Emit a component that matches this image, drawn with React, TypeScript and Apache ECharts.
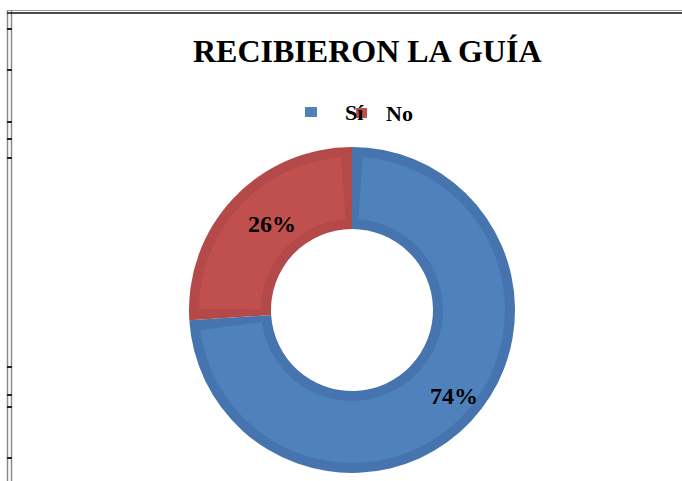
import React, { useEffect, useRef } from "react";
import * as echarts from "echarts";

const titleText = "RECIBIERON LA GUÍA";
const categories = ["Sí", "No"];
const values = [74, 26];
const lightColors = ["#4F81BD", "#C0504D"];
const darkColors = ["#4674AE", "#B4494A"];
const borderTickYs = [29, 70, 122, 139, 158, 367, 395, 407, 458];

const SERIF = "'Liberation Serif', 'Times New Roman', serif";

export default function App() {
  const ref = useRef<HTMLDivElement>(null);

  useEffect(() => {
    if (!ref.current) return;
    const chart = echarts.init(ref.current, null, { renderer: "svg" });

    const lightData = categories.map((name, i) => ({
      name,
      value: values[i],
      itemStyle: { color: lightColors[i] },
    }));
    const darkData = categories.map((name, i) => ({
      name,
      value: values[i],
      itemStyle: { color: darkColors[i] },
    }));

    const graphics: any[] = [
      { type: "line", shape: { x1: 7.5, y1: 10, x2: 7.5, y2: 481 }, style: { stroke: "#8a8a8a", lineWidth: 1.5 } },
      { type: "line", shape: { x1: 11.5, y1: 10, x2: 11.5, y2: 481 }, style: { stroke: "#8a8a8a", lineWidth: 1.5 } },
      { type: "line", shape: { x1: 7, y1: 10.5, x2: 682, y2: 10.5 }, style: { stroke: "#9a9a9a", lineWidth: 1 } },
      { type: "line", shape: { x1: 7, y1: 13, x2: 682, y2: 13 }, style: { stroke: "#111", lineWidth: 1.5 } },
      ...borderTickYs.map((y) => ({
        type: "rect",
        shape: { x: 7, y: y - 1, width: 5, height: 2 },
        style: { fill: "#222" },
      })),
    ];

    chart.setOption({
      animation: false,
      backgroundColor: "#ffffff",
      title: {
        text: titleText,
        left: 193,
        top: 35,
        padding: 0,
        textStyle: {
          fontFamily: SERIF,
          fontWeight: "bold",
          fontSize: 32,
          color: "#000",
        },
      },
      legend: [
        {
          data: [categories[0]],
          left: 305,
          top: 101,
          padding: 0,
          itemWidth: 12,
          itemHeight: 10,
          icon: "rect",
          z: 5,
          textStyle: {
            fontFamily: SERIF,
            fontWeight: "bold",
            fontSize: 22,
            color: "#000",
            padding: [0, 0, 0, 23],
          },
        },
        {
          data: [categories[1]],
          left: 356,
          top: 102,
          padding: 0,
          itemWidth: 11,
          itemHeight: 10,
          icon: "rect",
          z: 4,
          textStyle: {
            fontFamily: SERIF,
            fontWeight: "bold",
            fontSize: 22,
            color: "#000",
            padding: [0, 0, 0, 14],
          },
        },
      ],
      series: [
        {
          name: "light",
          type: "pie",
          center: [352, 310],
          radius: [91, 153],
          startAngle: 90,
          clockwise: true,
          padAngle: 8,
          z: 3,
          silent: true,
          data: lightData,
          label: {
            show: true,
            position: "inside",
            formatter: "{d}%",
            offset: [11, 0],
            fontFamily: SERIF,
            fontWeight: "bold",
            fontSize: 24,
            color: "#000",
          },
          labelLine: { show: false },
          emphasis: { disabled: true },
        },
        {
          name: "dark",
          type: "pie",
          center: [352, 310],
          radius: [81, 163],
          startAngle: 90,
          clockwise: true,
          z: 2,
          silent: true,
          data: darkData,
          label: { show: false },
          labelLine: { show: false },
          emphasis: { disabled: true },
        },
      ],
      graphic: graphics,
    });

    return () => chart.dispose();
  }, []);

  return (
    <div
      ref={ref}
      style={{ position: "fixed", left: 0, top: 0, width: 682, height: 481, background: "#fff" }}
    />
  );
}
